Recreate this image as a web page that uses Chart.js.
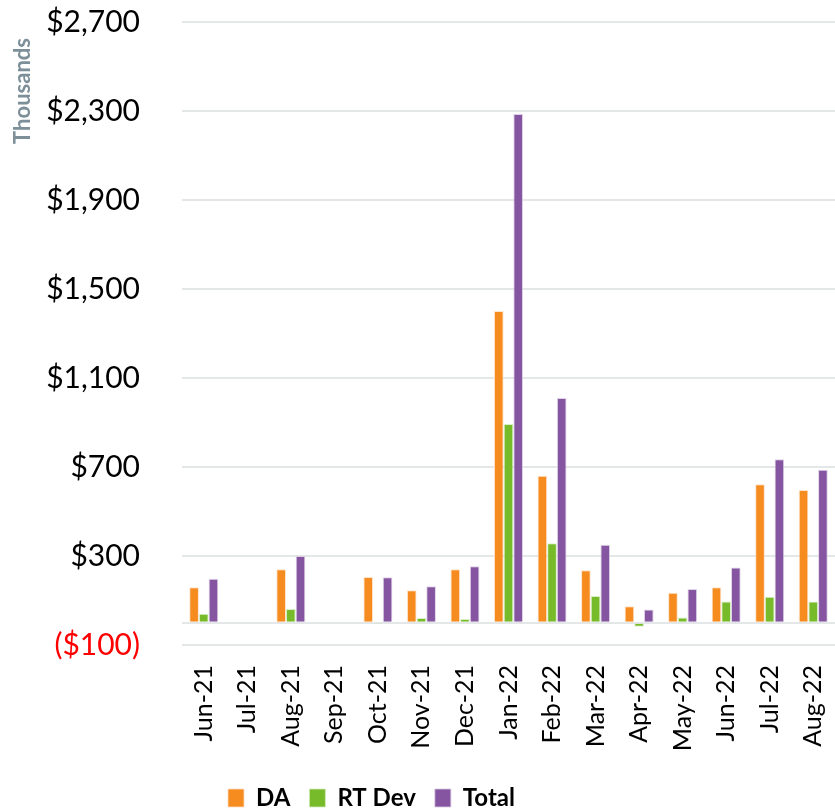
<!DOCTYPE html>
<html>
<head>
<meta charset="utf-8">
<script src="https://cdn.jsdelivr.net/npm/chart.js@4"></script>
<style>
  html, body { margin: 0; padding: 0; background: #fff; }
  #wrap { width: 835px; height: 810px; }
</style>
</head>
<body>
<div id="wrap"><canvas id="chart"></canvas></div>
<script>
const months = ['Jun-21','Jul-21','Aug-21','Sep-21','Oct-21','Nov-21','Dec-21','Jan-22','Feb-22','Mar-22','Apr-22','May-22','Jun-22','Jul-22','Aug-22']

// values in thousands of dollars
const da     = [160, null, 241, null, 206, 146, 240, 1401, 661, 236, 74, 135, 159, 622, 597]
const rtDev  = [41, null, 62, null, -3, 21, 17, 893, 357, 120, -18, 24, 96, 117, 96]
const total  = [198, null, 300, null, 205, 164, 254, 2286, 1010, 351, 59, 152, 248, 735, 688]

const yMin = -100
const yMax = 2700
const yStep = 400

const fontFam = 'Lato, "Open Sans", sans-serif'

const money = v => v < 0 ? `($${Math.abs(v).toLocaleString('en-US')})` : `$${v.toLocaleString('en-US')}`

// nudge the legend left and down, the way the original sits
const legendShift = {
    id: 'legendShift',
    afterLayout(chart) {
        const lg = chart.legend
        if (!lg) return
        lg.left -= 46
        lg.right -= 46
        lg.top += 10
        lg.bottom += 10
    }
}

new Chart(document.getElementById('chart').getContext('2d'), {
    type: 'bar',
    data: {
        labels: months,
        datasets: [
            { label: 'DA', data: da, backgroundColor: '#f68b1f', borderColor: 'rgba(255,220,190,0.8)' },
            { label: 'RT Dev', data: rtDev, backgroundColor: '#78bb2a', borderColor: 'rgba(210,235,190,0.8)' },
            { label: 'Total', data: total, backgroundColor: '#8555a1', borderColor: 'rgba(215,200,225,0.8)' }
        ]
    },
    options: {
        responsive: true,
        maintainAspectRatio: false,
        animation: false,
        datasets: {
            bar: { categoryPercentage: 0.667, barPercentage: 1, borderWidth: 1 }
        },
        layout: { padding: { top: 22, right: 0, left: 0, bottom: 0 } },
        plugins: {
            tooltip: { enabled: false },
            legend: {
                position: 'bottom',
                labels: {
                    boxWidth: 16,
                    boxHeight: 18,
                    padding: 19,
                    color: '#000',
                    font: { family: fontFam, size: 24, weight: 'bold' }
                }
            }
        },
        scales: {
            x: {
                grid: { display: false, drawTicks: false },
                border: { display: false },
                ticks: {
                    minRotation: 90,
                    maxRotation: 90,
                    padding: 20,
                    color: '#000',
                    font: { family: fontFam, size: 25 }
                },
                afterFit: s => {
                    s.height = 112
                    s.paddingLeft = 0
                    s.paddingRight = 0
                }
            },
            y: {
                min: yMin,
                max: yMax,
                grid: { color: '#e4e7e7', lineWidth: 2, drawTicks: false },
                border: { display: false },
                afterBuildTicks: s => {
                    s.ticks.push({ value: 0 })
                    s.ticks.sort((a, b) => a.value - b.value)
                },
                ticks: {
                    stepSize: yStep,
                    padding: 42,
                    color: ctx => (ctx.tick && ctx.tick.value < 0) ? '#ff0000' : '#000',
                    font: { family: fontFam, size: 30 },
                    callback: v => v === 0 ? '' : money(v)
                },
                title: {
                    display: true,
                    text: 'Thousands   ',
                    align: 'end',
                    color: '#7d8f99',
                    padding: { top: 10, bottom: 0 },
                    font: { family: fontFam, size: 22, weight: 'bold' }
                },
                afterFit: s => {
                    s.width = 182
                    s.paddingTop = 0
                    s.paddingBottom = 0
                }
            }
        }
    },
    plugins: [legendShift]
})
</script>
</body>
</html>
